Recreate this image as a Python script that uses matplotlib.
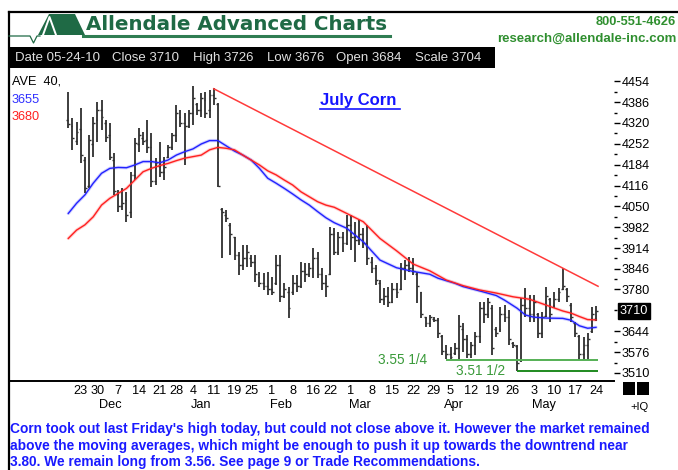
import matplotlib
matplotlib.use('Agg')
import matplotlib.pyplot as plt
import numpy as np
import pandas as pd
from matplotlib.lines import Line2D
from matplotlib.patches import Polygon, Rectangle

# ---------------- data ----------------
holidays = ['2009-11-26', '2009-12-25', '2010-01-01', '2010-01-18', '2010-02-15', '2010-04-02']
dates = pd.bdate_range('2009-11-18', '2010-05-24')
dates = dates[~dates.isin(pd.to_datetime(holidays))]

high = [4420, 4335, 4323, 4367, 4209, 4280, 4339, 4387, 4394, 4329,
        4319, 4222, 4102, 4108, 4095, 4160, 4270, 4303, 4290, 4329,
        4287, 4206, 4258, 4209, 4248, 4287, 4377, 4361, 4351, 4361,
        4439, 4384, 4416, 4420, 4426, 4432, 4384, 4043, 4037, 3994,
        3951, 3902, 3924, 3924, 3891, 3891, 3837, 3832, 3837, 3821,
        3891, 3891, 3800, 3789, 3827, 3827, 3870, 3864, 3864, 3913,
        3902, 3848, 3827, 3983, 3978, 3967, 3967, 4021, 4021, 3999,
        4005, 3978, 3989, 3886, 3859, 3810, 3783, 3789, 3800, 3800,
        3864, 3875, 3885, 3882, 3837, 3772, 3691, 3697, 3691, 3686,
        3632, 3600, 3594, 3605, 3697, 3670, 3632, 3610, 3643, 3740,
        3740, 3751, 3729, 3659, 3724, 3729, 3713, 3610, 3600, 3751,
        3783, 3762, 3762, 3702, 3708, 3789, 3751, 3772, 3783, 3848,
        3783, 3735, 3675, 3632, 3627, 3638, 3724, 3726]
low = [4302, 4232, 4248, 4190, 4092, 4108, 4209, 4258, 4296, 4258,
       4199, 4086, 4030, 4037, 3998, 4011, 4134, 4225, 4248, 4222,
       4112, 4118, 4144, 4134, 4206, 4232, 4258, 4306, 4183, 4303,
       4313, 4345, 4339, 4335, 4335, 4377, 4112, 3881, 3999, 3891,
       3875, 3827, 3843, 3853, 3853, 3805, 3789, 3778, 3762, 3762,
       3794, 3740, 3751, 3686, 3762, 3772, 3783, 3805, 3821, 3816,
       3816, 3778, 3756, 3827, 3891, 3891, 3902, 3924, 3907, 3870,
       3924, 3913, 3859, 3832, 3794, 3736, 3729, 3724, 3735, 3751,
       3778, 3810, 3835, 3827, 3735, 3686, 3659, 3659, 3675, 3621,
       3567, 3553, 3553, 3567, 3553, 3578, 3557, 3557, 3567, 3605,
       3670, 3686, 3567, 3627, 3643, 3675, 3600, 3589, 3515, 3546,
       3691, 3675, 3675, 3621, 3621, 3691, 3675, 3718, 3740, 3778,
       3740, 3675, 3627, 3552, 3550, 3552, 3638, 3676]
opn = [4330, 4310, 4260, 4300, 4200, 4115, 4250, 4330, 4360, 4320,
       4280, 4200, 4090, 4050, 4070, 4030, 4150, 4250, 4270, 4265,
       4240, 4130, 4180, 4160, 4210, 4240, 4280, 4340, 4320, 4310,
       4350, 4380, 4360, 4395, 4360, 4410, 4380, 4040, 4020, 3990,
       3950, 3890, 3860, 3880, 3880, 3870, 3820, 3800, 3790, 3780,
       3800, 3860, 3760, 3770, 3770, 3800, 3790, 3840, 3830, 3850,
       3880, 3830, 3800, 3830, 3960, 3900, 3950, 3930, 3990, 3950,
       3940, 3960, 3930, 3870, 3850, 3800, 3750, 3760, 3740, 3780,
       3780, 3850, 3860, 3850, 3830, 3770, 3690, 3670, 3685, 3680,
       3630, 3580, 3570, 3575, 3590, 3650, 3620, 3570, 3600, 3630,
       3720, 3700, 3720, 3650, 3650, 3700, 3690, 3605, 3595, 3550,
       3730, 3720, 3700, 3700, 3640, 3695, 3750, 3730, 3750, 3780,
       3780, 3730, 3670, 3630, 3570, 3600, 3645, 3684]
close = [4315, 4270, 4290, 4215, 4110, 4265, 4320, 4360, 4340, 4275,
         4210, 4100, 4050, 4060, 4020, 4150, 4255, 4280, 4260, 4240,
         4130, 4190, 4160, 4175, 4240, 4280, 4350, 4320, 4310, 4350,
         4400, 4360, 4400, 4350, 4410, 4400, 4115, 4030, 4010, 3960,
         3890, 3860, 3880, 3900, 3870, 3830, 3800, 3790, 3780, 3770,
         3860, 3760, 3780, 3720, 3800, 3790, 3840, 3830, 3850, 3880,
         3830, 3800, 3790, 3960, 3900, 3950, 3930, 3990, 3950, 3940,
         3960, 3930, 3880, 3850, 3810, 3750, 3760, 3740, 3780, 3770,
         3850, 3860, 3850, 3840, 3790, 3700, 3670, 3690, 3680, 3640,
         3580, 3570, 3560, 3590, 3660, 3620, 3570, 3600, 3630, 3720,
         3700, 3740, 3590, 3640, 3700, 3690, 3620, 3600, 3540, 3730,
         3720, 3700, 3740, 3640, 3690, 3760, 3700, 3750, 3770, 3790,
         3760, 3690, 3640, 3570, 3600, 3620, 3700, 3710]

ma_fast_idx = [0, 2, 4, 6, 8, 10, 12, 14, 16, 18, 20, 22, 24, 26, 28, 30, 32, 34, 36, 38,
               40, 42, 44, 46, 48, 50, 52, 54, 56, 58, 60, 62, 64, 67, 71, 75, 79, 83, 87, 89,
               93, 95, 99, 103, 105, 108, 110, 112, 115, 119, 121, 123, 125, 127]
ma_fast = [4026, 4059, 4086, 4124, 4156, 4172, 4175, 4174, 4183, 4194, 4194, 4190, 4199, 4215,
           4226, 4235, 4251, 4262, 4262, 4245, 4228, 4215, 4199, 4172, 4140, 4124, 4107, 4089,
           4070, 4053, 4032, 4012, 3996, 3978, 3934, 3875, 3850, 3838, 3829, 3816, 3800, 3789,
           3775, 3760, 3745, 3719, 3697, 3690, 3687, 3686, 3680, 3662, 3654, 3657]
ma_slow_idx = [0, 2, 4, 6, 8, 10, 12, 14, 16, 18, 20, 22, 24, 26, 28, 30, 32, 34, 36, 38,
               40, 42, 44, 46, 48, 50, 52, 54, 56, 58, 60, 62, 64, 67, 71, 75, 79, 83, 87, 91,
               95, 99, 103, 107, 111, 115, 119, 121, 123, 125, 127]
ma_slow = [3945, 3972, 3989, 4015, 4053, 4075, 4091, 4107, 4134, 4161, 4172, 4181, 4188, 4197,
           4205, 4210, 4215, 4232, 4240, 4237, 4232, 4215, 4199, 4183, 4164, 4151, 4134, 4118,
           4096, 4080, 4064, 4053, 4046, 4026, 3999, 3945, 3905, 3862, 3840, 3810, 3792, 3778,
           3768, 3756, 3748, 3729, 3710, 3703, 3692, 3682, 3681]

trend_idx = [35, 127.5]
trend_val = [4430, 3790]

support_levels = [3552.5, 3515]
support_start = [91, 108]
support_labels = ['3.55 1/4', '3.51 1/2']

yticks = [4454, 4386, 4320, 4252, 4184, 4116, 4050, 3982, 3914, 3846, 3780, 3644, 3576, 3510]
last_close = 3710

header_items = ['Date 05-24-10', 'Close 3710', 'High 3726', 'Low 3676', 'Open 3684', 'Scale 3704']
ave_labels = ['AVE  40,', '3655', '3680']
note_lines = ["Corn took out last Friday's high today, but could not close above it. However the market remained",
              "above the moving averages, which might be enough to push it up towards the downtrend near",
              "3.80. We remain long from 3.56. See page 9 or Trade Recommendations."]

# ---------------- layout ----------------
W, H = 678, 470
FONT = ['Liberation Sans', 'DejaVu Sans']
FS = 9.2


def fx(x):
    return x / W


def fy(y):
    return 1 - y / H


fig = plt.figure(figsize=(W / 100, H / 100), dpi=100)
fig.patch.set_facecolor('white')

# outer frame
fig.add_artist(Line2D([fx(9), fx(9)], [0, fy(11.5)], color='black', lw=1.6))
fig.add_artist(Line2D([fx(9), 1], [fy(11.5), fy(11.5)], color='black', lw=1.6))

# logo
green_dark = '#1f6a45'
fig.add_artist(Polygon([(fx(38), fy(35)), (fx(49), fy(14)), (fx(75), fy(14)), (fx(85), fy(35))],
                       closed=True, transform=fig.transFigure, facecolor=green_dark, edgecolor='none'))
fig.add_artist(Line2D([fx(9), fx(30), fx(33.5), fx(37), fx(40)],
                      [fy(36), fy(36), fy(43), fy(36), fy(36)], color=green_dark, lw=0.9))
fig.add_artist(Line2D([fx(43), fx(49.5), fx(56)], [fy(35), fy(17), fy(35)], color='white', lw=1.4))
fig.add_artist(Line2D([fx(83), fx(390)], [fy(35.5), fy(35.5)], color='#2f7d52', lw=2.2))
fig.text(fx(86), fy(24), 'Allendale Advanced Charts', fontsize=14.3, fontweight='bold',
         color=green_dark, family='DejaVu Sans', va='center', ha='left')
fig.text(fx(676), fy(22), '800-551-4626', fontsize=9.3, fontweight='bold', color='#2f8f2f',
         family=FONT, va='center', ha='right')
fig.text(fx(676), fy(39), 'research@allendale-inc.com', fontsize=9.5, fontweight='bold',
         color='#2f8f2f', family=FONT, va='center', ha='right')

# header bar
fig.add_artist(Rectangle((fx(9), fy(68.3)), fx(486), 21 / H, transform=fig.transFigure,
                         facecolor='black', edgecolor='none'))
header_x = [15, 112, 193, 267, 336, 415]
for xp, s in zip(header_x, header_items):
    fig.text(fx(xp), fy(58), s, fontsize=FS + 0.3, color='#e0e0e0', family=FONT, va='center', ha='left')

# main axes
ax = fig.add_axes([fx(10), fy(381), fx(604), 311 / H])
x0 = (10 - 68.3) / 4.155
x1 = (614 - 68.3) / 4.155
ax.set_xlim(x0, x1)
ax.set_ylim(3483.1, 4490.7)

idx = np.arange(len(high))
bar_col = '#2e2e2e'
ax.vlines(idx, low, high, color=bar_col, lw=1.3, zorder=3)
ax.hlines(opn, idx - 0.45, idx, color=bar_col, lw=1.0, zorder=3)
ax.hlines(close, idx, idx + 0.45, color=bar_col, lw=1.0, zorder=3)

ax.plot(ma_fast_idx, ma_fast, color='#8080ff', lw=2.4, alpha=0.35, zorder=2, solid_capstyle='round')
ax.plot(ma_fast_idx, ma_fast, color='#2222ff', lw=1.0, zorder=4)
ax.plot(ma_slow_idx, ma_slow, color='#ff8080', lw=2.4, alpha=0.35, zorder=2, solid_capstyle='round')
ax.plot(ma_slow_idx, ma_slow, color='#ff2020', lw=1.0, zorder=4)

ax.plot(trend_idx, trend_val, color='#ff3a3a', lw=1.1, zorder=4)

sup_colors = ['#55b055', '#1f8a1f']
label_right = [86.3, 105.1]
for lev, st, lab, c, lr in zip(support_levels, support_start, support_labels, sup_colors, label_right):
    ax.hlines(lev, st, 127.6, color=c, lw=1.4, zorder=4)
    ax.text(lr, lev, lab, ha='right', va='center', color='#3a9a3a', fontsize=FS + 0.6, family=FONT)

for s in ['top', 'left', 'right']:
    ax.spines[s].set_visible(False)
ax.spines['bottom'].set_linewidth(1.4)
ax.spines['bottom'].set_color('black')

# y axis on the right
ax.yaxis.tick_right()
ax.set_yticks(yticks)
ax.set_yticklabels([str(v) for v in yticks], family=FONT, fontsize=FS)
mids = [(a + b) / 2 for a, b in zip(yticks[:-1], yticks[1:])]
ax.set_yticks(mids, minor=True)
ax.tick_params(axis='y', which='major', length=4, width=1, pad=1.5, direction='out')
ax.tick_params(axis='y', which='minor', length=2, width=1, direction='out')
ax.annotate(str(last_close), xy=(1, last_close), xycoords=('axes fraction', 'data'),
            xytext=(4.0, 0), textcoords='offset points', va='center', ha='left',
            color='white', fontsize=FS, family=FONT, annotation_clip=False,
            bbox=dict(boxstyle='square,pad=0.15', facecolor='black', edgecolor='black'))

# x axis: first trading day of each week, month names
week_idx = [k for k in range(1, len(dates)) if dates[k].weekday() < dates[k - 1].weekday()]
ax.set_xticks(week_idx)
ax.set_xticklabels([str(dates[k].day) for k in week_idx], family=FONT, fontsize=FS)
ax.tick_params(axis='x', length=0, pad=3)
month_idx = [k for k in range(1, len(dates)) if dates[k].month != dates[k - 1].month]
for k in month_idx:
    ax.annotate(dates[k].strftime('%b'), xy=(k - 0.5, 0), xycoords=('data', 'axes fraction'),
                xytext=(0, -17.3), textcoords='offset points', ha='left', va='center',
                fontsize=FS, family=FONT, annotation_clip=False)

# moving-average labels
ave_colors = ['black', '#3030ff', '#ff2020']
for yp, s, c in zip([82, 100, 117], ave_labels, ave_colors):
    fig.text(fx(12), fy(yp), s, fontsize=FS, color=c, family=FONT, va='center', ha='left')

# title
fig.text(fx(320), fy(100), 'July Corn', fontsize=12, fontweight='bold', color='#1515ff',
         family=FONT, va='center', ha='left')
fig.add_artist(Line2D([fx(320), fx(400)], [fy(108.5), fy(108.5)], color='#1515ff', lw=1.2))

# bottom-right squares
fig.add_artist(Rectangle((fx(622.5), fy(395)), fx(12), 13 / H, transform=fig.transFigure,
                         facecolor='black', edgecolor='none'))
fig.add_artist(Rectangle((fx(637), fy(395)), fx(12), 13 / H, transform=fig.transFigure,
                         facecolor='black', edgecolor='none'))
fig.text(fx(639), fy(407), '+IQ', fontsize=8, color='black', family=FONT, va='center', ha='center')

# commentary
for yp, s in zip([429, 446, 462], note_lines):
    fig.text(fx(10), fy(yp), s, fontsize=9.9, fontweight='bold', color='#1a1aff',
             family=FONT, va='center', ha='left')

fig.savefig('out.png', dpi=100)
